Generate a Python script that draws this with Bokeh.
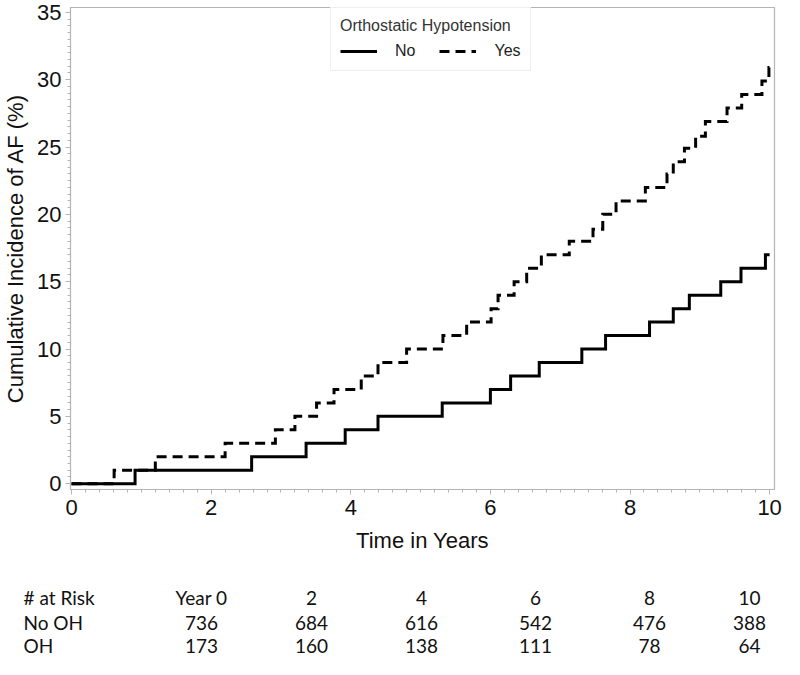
from bokeh.plotting import figure
from bokeh.models import Range1d, Legend, LegendItem, FixedTicker, ColumnDataSource
from bokeh.layouts import column
from bokeh.embed import file_html
from bokeh.resources import INLINE
from bokeh.core.properties import value
import numpy as np

# ---- data ----
no_oh_time = [0, 0.91, 2.58, 3.36, 3.92, 4.39, 5.31, 6.00, 6.29, 6.70, 7.31, 7.65,
              8.28, 8.62, 8.85, 9.30, 9.59, 9.94, 10.0]
no_oh_pct = [0, 1, 2, 3, 4, 5, 6, 7, 8, 9, 10, 11, 12, 13, 14, 15, 16, 17, 17]

oh_time = [0, 0.61, 1.20, 2.20, 2.92, 3.20, 3.51, 3.76, 4.15, 4.39, 4.80, 5.32, 5.66,
           6.01, 6.11, 6.34, 6.52, 6.73, 7.13, 7.47, 7.61, 7.80, 8.22, 8.53, 8.62,
           8.78, 8.94, 9.08, 9.39, 9.60, 9.89, 9.99, 10.0]
oh_pct = [0, 1, 2, 3, 4, 5, 6, 7, 8, 9, 10, 11, 12, 13, 14, 15, 16, 17, 18, 18.9,
          20, 21, 22, 23, 23.9, 24.9, 25.8, 26.9, 27.9, 28.9, 29.9, 30.9, 30.9]

x_ticks = [0, 2, 4, 6, 8, 10]
y_ticks = [0, 5, 10, 15, 20, 25, 30, 35]

risk_header = ["Year 0", "2", "4", "6", "8", "10"]
risk_no_oh = [736, 684, 616, 542, 476, 388]
risk_oh = [173, 160, 138, 111, 78, 64]
row_labels = ["# at Risk", "No OH", "OH"]

# ---- layout constants ----
W = 784
MAIN_H = 569
TABLE_H = 89
FONT = "Liberation Sans"
TFONT = "Lato"
GRAY = "#b4b4b4"

p = figure(width=W, height=MAIN_H,
           x_range=Range1d(-0.015, 10.07), y_range=Range1d(-0.43, 35.36),
           output_backend="svg", toolbar_location=None,
           min_border_top=7, min_border_bottom=80,
           min_border_left=64, min_border_right=10)
p.frame_align = False
p.grid.visible = False
p.outline_line_color = GRAY
p.outline_line_width = 1.2

r_no = p.step(no_oh_time, no_oh_pct, mode="after", line_width=3, line_color="black",
              line_join="miter")
r_yes = p.step(oh_time, oh_pct, mode="after", line_width=3, line_color="black",
               line_dash="10 6", line_join="miter")

p.xaxis.ticker = FixedTicker(ticks=x_ticks, minor_ticks=list(np.arange(0, 10.001, 0.2)))
p.yaxis.ticker = FixedTicker(ticks=y_ticks, minor_ticks=list(np.arange(0, 35.001, 0.5)))

for ax in (p.xaxis[0], p.yaxis[0]):
    ax.axis_line_color = GRAY
    ax.major_tick_line_color = GRAY
    ax.minor_tick_line_color = GRAY
    ax.major_tick_in = 0
    ax.major_tick_out = 5
    ax.minor_tick_in = 0
    ax.minor_tick_out = 3
    ax.major_label_text_font = FONT
    ax.major_label_text_font_size = "22px"
    ax.major_label_text_color = "#111111"
    ax.axis_label_text_font = FONT
    ax.axis_label_text_font_size = "22px"
    ax.axis_label_text_font_style = "normal"
    ax.axis_label_text_color = "#111111"

p.xaxis.axis_label = "Time in Years"
p.xaxis.major_label_standoff = 5
p.xaxis.axis_label_standoff = 10
p.yaxis.axis_label = "Cumulative Incidence of AF (%)"
p.yaxis.major_label_standoff = 4
p.yaxis.axis_label_standoff = 6

legend = Legend(items=[LegendItem(label="No", renderers=[r_no]),
                       LegendItem(label="Yes", renderers=[r_yes])],
                title="Orthostatic Hypotension", orientation="horizontal",
                location=(260, 418))
legend.title_text_font = FONT
legend.title_text_font_size = "16px"
legend.title_text_font_style = "normal"
legend.title_text_color = "#333333"
legend.title_standoff = 6
legend.label_text_font = FONT
legend.label_text_font_size = "16px"
legend.label_text_color = "#222222"
legend.glyph_width = 37
legend.glyph_height = 20
legend.label_standoff = 18
legend.spacing = 24
legend.padding = 9
legend.margin = 0
legend.border_line_color = "#dddddd"
legend.background_fill_color = "white"
legend.background_fill_alpha = 1
p.add_layout(legend)

# ---- at-risk table (own frame spanning the full width; x in canvas px) ----
t = figure(width=W, height=TABLE_H,
           x_range=Range1d(0, W), y_range=Range1d(TABLE_H, 0),
           output_backend="svg", toolbar_location=None,
           x_axis_location=None, y_axis_location=None, min_border=0)
t.frame_align = False
t.grid.visible = False
t.outline_line_color = None

row_y = [28, 53, 76]
col_x = [201, 311, 421, 535, 649, 749]
label_x = 23

t.text(x=[label_x] * 3, y=row_y, text=row_labels, text_font=value(TFONT),
       text_font_size="19px", text_align="left", text_baseline="middle",
       text_color="#111111")

rows = [risk_header, [str(v) for v in risk_no_oh], [str(v) for v in risk_oh]]
xs, ys, txt = [], [], []
for yy, vals in zip(row_y, rows):
    xs += col_x
    ys += [yy] * len(vals)
    txt += vals
src = ColumnDataSource(dict(x=xs, y=ys, text=txt))
t.text(x="x", y="y", text="text", source=src, text_font=value(TFONT),
       text_font_size="19px", text_align="center", text_baseline="middle",
       text_color="#111111")

layout = column(p, t, spacing=0)
open("out.html", "w").write(file_html(layout, INLINE))
